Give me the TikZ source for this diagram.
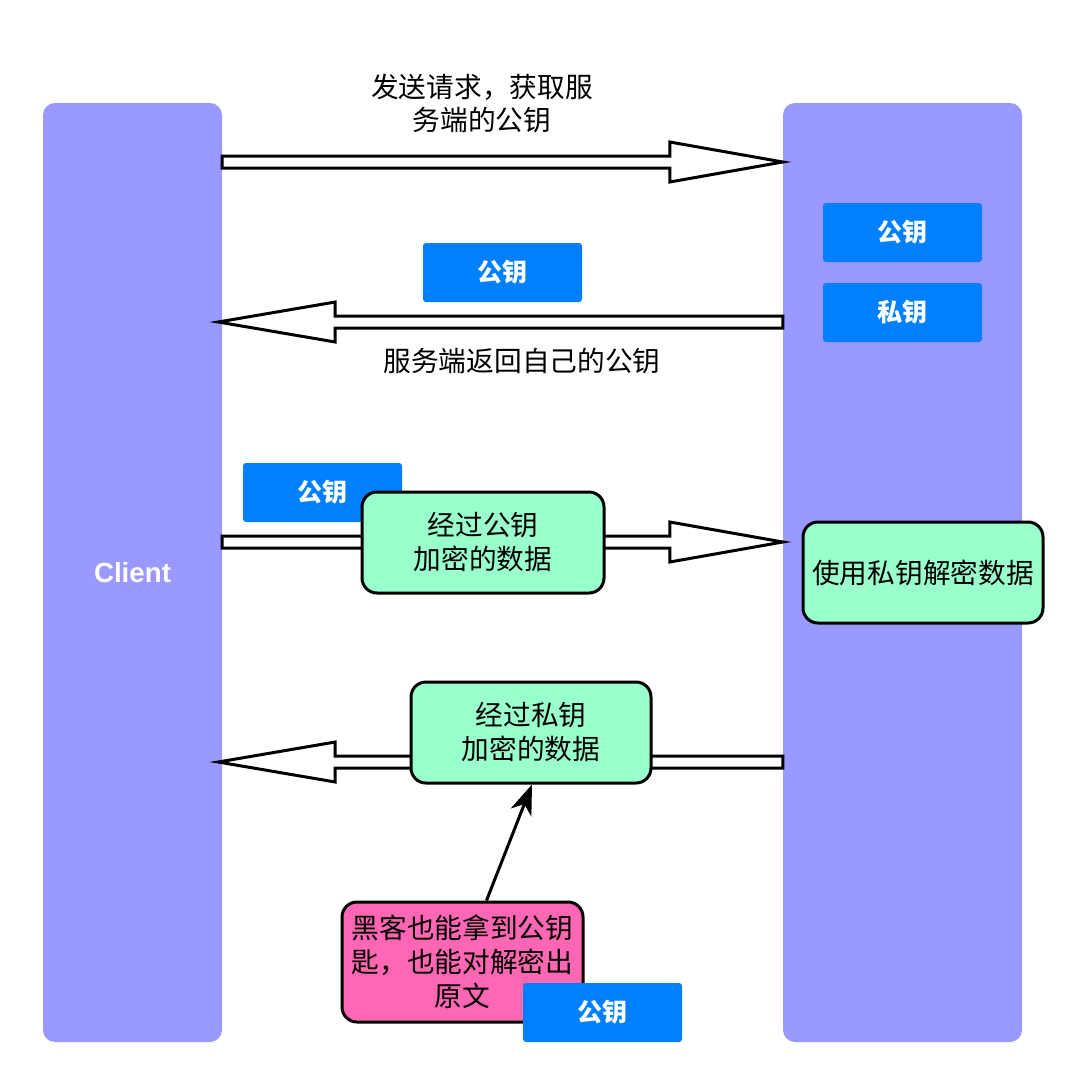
\documentclass[tikz,border=0pt]{standalone}
\usepackage{fontspec}
\setmainfont{Noto Sans CJK SC}
\newfontfamily\latb{Liberation Sans}
\usetikzlibrary{arrows.meta,calc}
\definecolor{lav}{HTML}{9999FF}
\definecolor{keyblue}{HTML}{007FFF}
\definecolor{mint}{HTML}{99FFCC}
\definecolor{hot}{HTML}{FF66B3}
\begin{document}
\begin{tikzpicture}[x=1pt,y=-1pt,
  column/.style={fill=lav, rounded corners=12pt, inner sep=0pt, text=white},
  keybox/.style={fill=keyblue, rounded corners=3pt, inner sep=0pt, minimum width=159pt, minimum height=59pt, text=white, font=\bfseries\fontsize{25}{28}\selectfont},
  msg/.style={fill=mint, draw=black, line width=3pt, rounded corners=15pt, inner sep=0pt, align=center, font=\fontsize{27.7}{34}\selectfont},
  lbl/.style={align=center, inner sep=0pt, font=\fontsize{27.7}{33}\selectfont},
  blockarrow/.style={draw=black, fill=white, line width=3pt, line join=miter}
]
\useasboundingbox (0,0) rectangle (1084,1084);
\fill[white] (0,0) rectangle (1084,1084);

% columns
\node[column, minimum width=179pt, minimum height=939pt, font=\latb\bfseries\fontsize{27.7}{32}\selectfont] (client) at (132.5,572.5) {Client};
\node[column, minimum width=239pt, minimum height=939pt] (server) at (902.5,572.5) {};

% key boxes (server)
\node[keybox] (pub) at (902.5,232.5) {公钥};
\node[keybox] (priv) at (902.5,312.5) {私钥};
\node[keybox] (pub2) at (502.5,272.5) {公钥};

% labels
\node[lbl] (t1) at (482,103) {发送请求，获取服\\务端的公钥};
\node[lbl] (t2) at (522,361) {服务端返回自己的公钥};

% arrow 1: client -> server
\coordinate (a1s) at (client.east |- 0,162);
\coordinate (a1e) at (server.west |- 0,162);
\draw[blockarrow] ($(a1s)+(0,-6)$) -- ($(a1e)+(-113,-6)$) -- ($(a1e)+(-113,-20)$) -- (a1e) -- ($(a1e)+(-113,20)$) -- ($(a1e)+(-113,6)$) -- ($(a1s)+(0,6)$) -- cycle;

% arrow 2: server -> client
\coordinate (a2s) at (server.west |- 0,322);
\coordinate (a2e) at ($(client.east |- 0,322)+(-4,0)$);
\draw[blockarrow] ($(a2s)+(0,-6)$) -- ($(a2e)+(117,-6)$) -- ($(a2e)+(117,-20)$) -- (a2e) -- ($(a2e)+(117,20)$) -- ($(a2e)+(117,6)$) -- ($(a2s)+(0,6)$) -- cycle;

% arrow 3: client -> server
\coordinate (a3s) at (client.east |- 0,542);
\coordinate (a3e) at (server.west |- 0,542);
\draw[blockarrow] ($(a3s)+(0,-6)$) -- ($(a3e)+(-113,-6)$) -- ($(a3e)+(-113,-20)$) -- (a3e) -- ($(a3e)+(-113,20)$) -- ($(a3e)+(-113,6)$) -- ($(a3s)+(0,6)$) -- cycle;

% arrow 4: server -> client
\coordinate (a4s) at (server.west |- 0,762);
\coordinate (a4e) at ($(client.east |- 0,762)+(-4,0)$);
\draw[blockarrow] ($(a4s)+(0,-6)$) -- ($(a4e)+(117,-6)$) -- ($(a4e)+(117,-20)$) -- (a4e) -- ($(a4e)+(117,20)$) -- ($(a4e)+(117,6)$) -- ($(a4s)+(0,6)$) -- cycle;

% key box behind first message
\node[keybox] (pub3) at (322.5,492.5) {公钥};

% messages
\node[msg, minimum width=242pt, minimum height=101pt] (g1) at (483,542.5) {经过公钥\\加密的数据};
\node[msg, minimum width=240pt, minimum height=101pt] (g3) at (923,572.5) {使用私钥解密数据};
\node[msg, minimum width=240pt, minimum height=101pt] (g2) at (531,732.5) {经过私钥\\加密的数据};

% hacker
\node[msg, fill=hot, minimum width=241pt, minimum height=120pt] (hack) at (462.5,962) {黑客也能拿到公钥\\匙，也能对解密出\\原文};
\node[keybox] (pub4) at (602.5,1012.5) {公钥};

\draw[line width=3pt, -{Stealth[length=30pt,width=22pt,inset=9pt]}] ($(hack.north)+(24,0)$) -- ($(g2.south)+(1,0)$);
\end{tikzpicture}
\end{document}
